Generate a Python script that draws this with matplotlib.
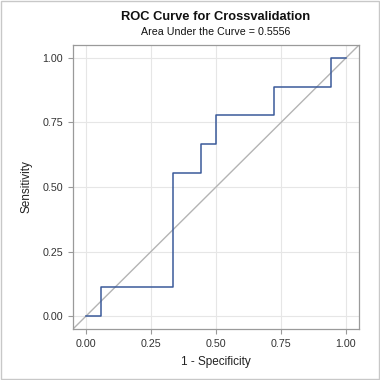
import matplotlib
matplotlib.use("Agg")
import matplotlib.pyplot as plt
from matplotlib.patches import Rectangle

plt.rcParams['font.family'] = ['Liberation Sans', 'DejaVu Sans']

fpr = [0.0, 0.056, 0.333, 0.444, 0.5, 0.722, 0.944, 1.0]
tpr = [0.0, 0.111, 0.556, 0.667, 0.778, 0.889, 1.0, 1.0]
ticks = [0.0, 0.25, 0.5, 0.75, 1.0]
tick_labels = ["0.00", "0.25", "0.50", "0.75", "1.00"]
title = "ROC Curve for Crossvalidation"
subtitle = "Area Under the Curve = 0.5556"

fig = plt.figure(figsize=(3.8, 3.8), dpi=100)
fig.patch.set_facecolor('white')
fig.add_artist(Rectangle((0.0015, 0.0015), 0.997, 0.997, transform=fig.transFigure,
                         fill=False, edgecolor='#c8c8c8', linewidth=1.0))

ax = fig.add_axes([73/380, 51/380, 286/380, 284/380])
lim = (-0.05, 1.05)
ax.set_xlim(lim)
ax.set_ylim(lim)
ax.plot(lim, lim, color='#b4b4b4', linewidth=1.0, zorder=2)
ax.step(fpr, tpr, where='post', color='#3a5a9a', linewidth=1.1, zorder=3)

ax.set_xticks(ticks)
ax.set_xticklabels(tick_labels)
ax.set_yticks(ticks)
ax.set_yticklabels(tick_labels)
ax.grid(True, color='#e6e6e6', linewidth=0.8, zorder=0)
ax.set_axisbelow(True)
for s in ax.spines.values():
    s.set_color('#9a9a9a')
    s.set_linewidth(0.9)
ax.tick_params(direction='out', length=3.5, width=0.8, color='#9a9a9a',
               labelsize=7.7, labelcolor='#333333', pad=3.5)
ax.set_xlabel("1 - Specificity", fontsize=8.5, color='#222222', labelpad=5)
ax.set_ylabel("Sensitivity", fontsize=8.5, color='#222222', labelpad=7)

cx = 216/380
fig.text(cx, 1 - 16.5/380, title, ha='center', va='center',
         fontsize=9.3, fontweight='bold', color='#111111')
fig.text(cx, 1 - 32/380, subtitle, ha='center', va='center',
         fontsize=7.7, color='#111111')

fig.savefig("out.png", dpi=100)
